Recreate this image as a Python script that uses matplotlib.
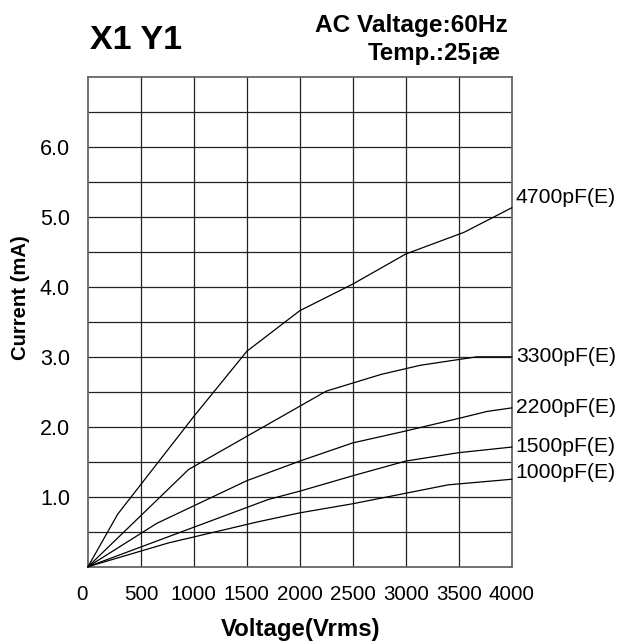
import matplotlib
matplotlib.use("Agg")
import matplotlib.pyplot as plt
from matplotlib import font_manager

W, H = 620, 641
DPI = 100

# ---- data ----
v_4700 = [0, 280, 1000, 1500, 2000, 2500, 3000, 3550, 4000]
i_4700 = [0, 0.75, 2.15, 3.08, 3.66, 4.04, 4.47, 4.78, 5.13]

v_3300 = [0, 950, 2250, 2770, 3140, 3670, 4000]
i_3300 = [0, 1.39, 2.51, 2.75, 2.88, 3.00, 3.00]

v_2200 = [0, 650, 1500, 2000, 2500, 3000, 3500, 3770, 4000]
i_2200 = [0, 0.62, 1.23, 1.51, 1.77, 1.94, 2.12, 2.22, 2.27]

v_1500 = [0, 1700, 2000, 2500, 3000, 3500, 4000]
i_1500 = [0, 0.96, 1.08, 1.30, 1.51, 1.63, 1.71]

v_1000 = [0, 760, 1600, 2000, 2500, 3000, 3400, 4000]
i_1000 = [0, 0.34, 0.64, 0.77, 0.90, 1.05, 1.17, 1.25]

series_names = ["4700pF(E)", "3300pF(E)", "2200pF(E)", "1500pF(E)", "1000pF(E)"]
label_y = [5.28, 3.01, 2.28, 1.72, 1.35]

x_ticks = [0, 500, 1000, 1500, 2000, 2500, 3000, 3500, 4000]
x_tick_labels = ["0", "500", "1000", "1500", "2000", "2500", "3000", "3500", "4000"]
y_ticks = [1.0, 2.0, 3.0, 4.0, 5.0, 6.0]
y_tick_labels = ["1.0", "2.0", "3.0", "4.0", "5.0", "6.0"]

title_left = "X1 Y1"
title_right1 = "AC Valtage:60Hz"
title_right2 = "Temp.:25¡æ"
x_label = "Voltage(Vrms)"
y_label = "Current (mA)"

# ---- fonts ----
installed = {f.name for f in font_manager.fontManager.ttflist}
HAS_NARROW = "Liberation Sans Narrow" in installed
NARROW = ["Liberation Sans Narrow", "Liberation Sans", "DejaVu Sans"] if HAS_NARROW else ["Liberation Sans", "DejaVu Sans"]
SANS = ["Liberation Sans", "DejaVu Sans"]
plt.rcParams["font.family"] = SANS

fig = plt.figure(figsize=(W / DPI, H / DPI), dpi=DPI)
fig.patch.set_facecolor("white")

def fx(px):
    return px / W

def fy(py):
    return 1 - py / H

ax = fig.add_axes([fx(88), fy(566.7), fx(511.7) - fx(88), fy(77) - fy(566.7)])
ax.set_xlim(0, 4000)
ax.set_ylim(0, 7.0)

# grid
for gx in range(500, 4000, 500):
    ax.axvline(gx, color="#222222", lw=0.9, zorder=1)
for k in range(1, 14):
    ax.axhline(k * 0.5, color="#222222", lw=0.9, zorder=1)
for s in ax.spines.values():
    s.set_color("#666666")
    s.set_linewidth(1.3)

# curves
for xs, ys in [(v_4700, i_4700), (v_3300, i_3300), (v_2200, i_2200),
               (v_1500, i_1500), (v_1000, i_1000)]:
    ax.plot(xs, ys, color="black", lw=0.9, zorder=3, clip_on=False)

# curve labels
lab_size = 17 if HAS_NARROW else 15.2
for name, ly in zip(series_names, label_y):
    ax.annotate(name, xy=(4000, ly), xytext=(3, 0), textcoords="offset points",
                va="center", ha="left", fontsize=lab_size, family=NARROW,
                annotation_clip=False)

# ticks
ax.set_xticks(x_ticks)
ax.set_xticklabels(x_tick_labels, family=NARROW, fontsize=16.5 if HAS_NARROW else 14.8)
ax.set_yticks(y_ticks)
ax.set_yticklabels(y_tick_labels, family=SANS, fontsize=15.5)
ax.tick_params(axis="x", length=0, pad=13.5)
ax.tick_params(axis="y", length=0, pad=13)
ax.get_xticklabels()[0].set_ha("right")

# labels and titles
fig.text(fx(301), fy(636), x_label, ha="center", va="baseline",
         fontsize=17.3, fontweight="bold")
fig.text(fx(21), fy(297.5), y_label, ha="center", va="center", rotation=90,
         fontsize=14.6, fontweight="bold")
fig.text(fx(90), fy(49), title_left, ha="left", va="baseline",
         fontsize=24.5, fontweight="bold")
fig.text(fx(315), fy(32), title_right1, ha="left", va="baseline",
         fontsize=17.6, fontweight="bold")
fig.text(fx(368), fy(60), title_right2, ha="left", va="baseline",
         fontsize=17.3, fontweight="bold")

fig.savefig("out.png", dpi=DPI, facecolor="white")
